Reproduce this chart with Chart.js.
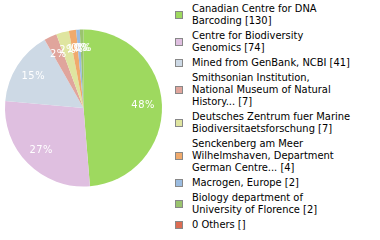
<!DOCTYPE html>
<html>
<head>
<meta charset="utf-8">
<script src="https://cdn.jsdelivr.net/npm/chart.js@4"></script>
<style>
    body { margin: 0; background: #fff; width: 380px; height: 240px; overflow: hidden; position: relative; font-family: "DejaVu Sans Condensed", "DejaVu Sans", sans-serif; }
    #wrap { position: absolute; left: 0; top: 0; width: 167px; height: 216px; }
    #legend { position: absolute; left: 175px; top: 3px; width: 205px; font-size: 11px; line-height: 12px; color: #000; }
    .item { display: flex; align-items: center; margin-bottom: 3px; }
    .box { width: 6px; height: 6px; border: 1px solid #888; margin-right: 9px; flex: none; }
</style>
</head>
<body>
<div id="wrap"><canvas id="pie"></canvas></div>
<div id="legend"></div>
<script>
var labels = [
    ['Canadian Centre for DNA', 'Barcoding [130]'],
    ['Centre for Biodiversity', 'Genomics [74]'],
    ['Mined from GenBank, NCBI [41]'],
    ['Smithsonian Institution,', 'National Museum of Natural', 'History... [7]'],
    ['Deutsches Zentrum fuer Marine', 'Biodiversitaetsforschung [7]'],
    ['Senckenberg am Meer', 'Wilhelmshaven, Department', 'German Centre... [4]'],
    ['Macrogen, Europe [2]'],
    ['Biology department of', 'University of Florence [2]'],
    ['0 Others []']
];
var values = [130, 74, 41, 7, 7, 4, 2, 2, 0];
var colors = ['#9ed95f', '#dfbfe0', '#cdd9e5', '#e0a59c', '#dfe5a0', '#f0aa6c', '#9bbce0', '#9ac46e', '#dc6c52'];

var total = 0;
for (var i = 0; i < values.length; i++) {
    total += values[i];
}

var legend = document.getElementById('legend');
for (var i = 0; i < labels.length; i++) {
    var item = document.createElement('div');
    item.className = 'item';
    var box = document.createElement('div');
    box.className = 'box';
    box.style.background = colors[i];
    var txt = document.createElement('div');
    txt.innerHTML = labels[i].join('<br>');
    item.appendChild(box);
    item.appendChild(txt);
    legend.appendChild(item);
}

var pctLabels = {
    id: 'pctLabels',
    afterDatasetsDraw: function (chart) {
        var ctx = chart.ctx;
        var meta = chart.getDatasetMeta(0);
        ctx.save();
        ctx.fillStyle = '#fff';
        ctx.font = '11px "DejaVu Sans Condensed"';
        ctx.letterSpacing = '0.5px';
        ctx.textAlign = 'center';
        ctx.textBaseline = 'middle';
        meta.data.forEach(function (arc, idx) {
            var mid = (arc.startAngle + arc.endAngle) / 2;
            var r = arc.outerRadius * 0.76;
            var x = arc.x + Math.cos(mid) * r;
            var y = arc.y + Math.sin(mid) * r;
            var pct = Math.floor(values[idx] / total * 100);
            ctx.fillText(pct + '%', x, y);
        });
        ctx.restore();
    }
};

var config = {
    type: 'pie',
    data: {
        labels: labels.map(function (l) { return l.join(' '); }),
        datasets: [{
            data: values,
            backgroundColor: colors,
            borderWidth: 0
        }]
    },
    options: {
        responsive: true,
        maintainAspectRatio: false,
        animation: false,
        layout: { padding: 5 },
        plugins: {
            legend: { display: false },
            tooltip: { enabled: false }
        }
    },
    plugins: [pctLabels]
};

new Chart(document.getElementById('pie').getContext('2d'), config);
</script>
</body>
</html>
